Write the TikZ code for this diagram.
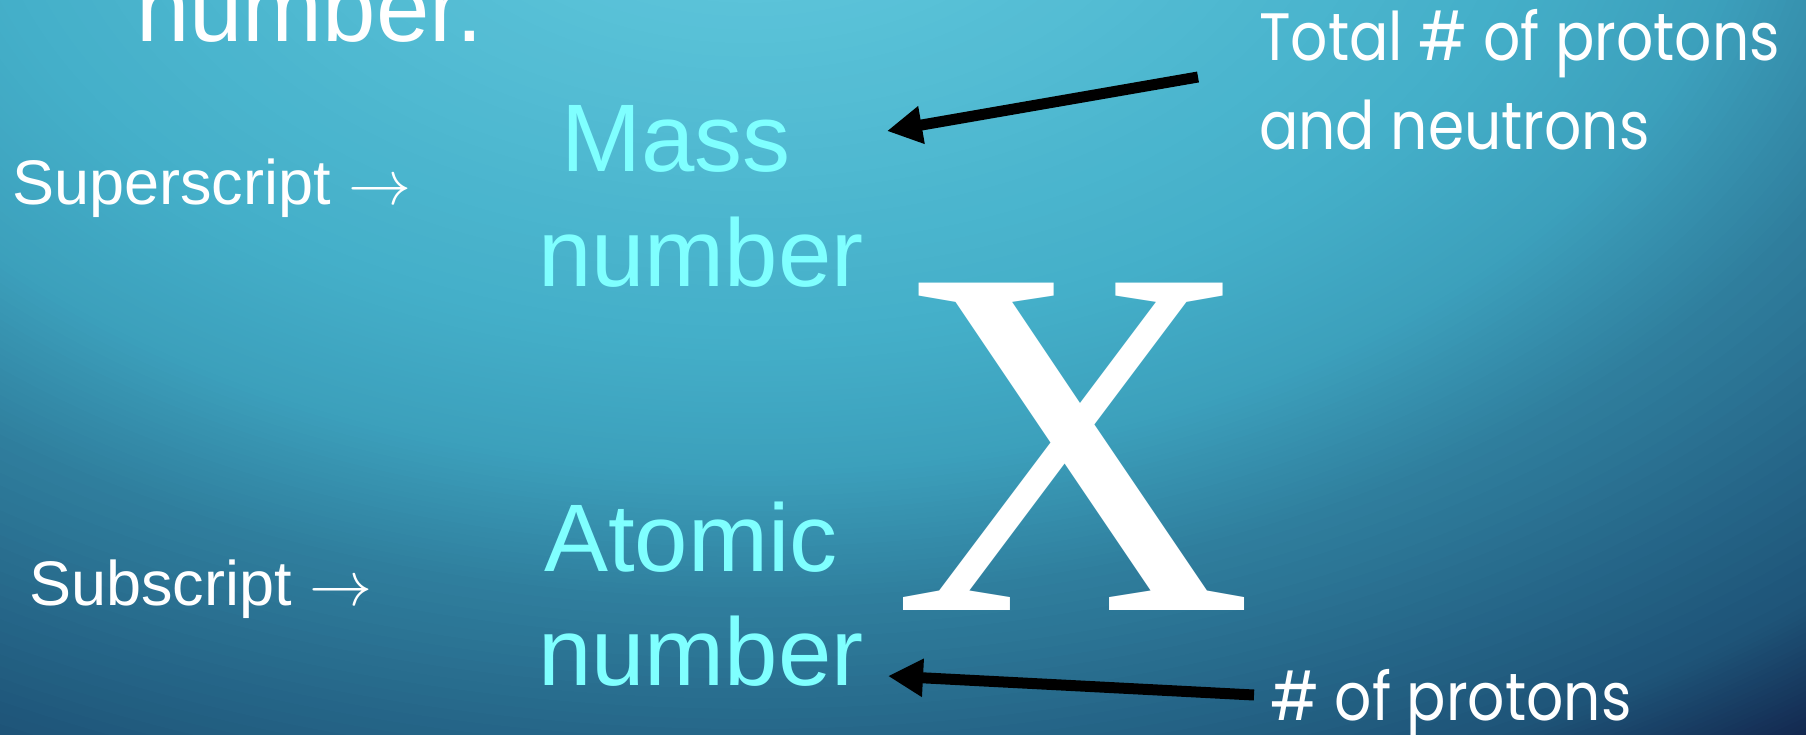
\documentclass[tikz,border=0pt]{standalone}
\usepackage{fontspec}
\usetikzlibrary{arrows.meta}
\setmainfont{Liberation Sans}
\newfontfamily\pSerif{Liberation Serif}
\newfontfamily\pGeo[FakeStretch=0.87]{Poppins}
\newcommand{\pSize}[1]{\fontsize{#1}{#1}\selectfont}
\newcommand{\pArrow}{{\fontsize{10}{10}\selectfont\scalebox{6.3}{$\rightarrow$}}}
\definecolor{pCyan}{HTML}{7FFFFF}
\definecolor{bgA}{HTML}{62CADF}
\definecolor{bgB}{HTML}{5BC3D9}
\definecolor{bgC}{HTML}{44AFC9}
\definecolor{bgD}{HTML}{3CA0BC}
\definecolor{bgE}{HTML}{30809F}
\definecolor{bgF}{HTML}{1E5478}
\definecolor{bgG}{HTML}{13284F}
\definecolor{bgH}{HTML}{112448}

\begin{document}
\begin{tikzpicture}[x=1pt,y=-1pt,
  lbl/.style={anchor=base west, inner sep=0pt, text=white},
  term/.style={lbl, text=pCyan, font=\pSize{96}},
  fat/.style={line width=11pt, -{Triangle[length=35pt,width=36pt]}}]
\useasboundingbox (0,0) rectangle (1806,734);
\begin{scope}
\clip (0,0) rectangle (1806,734);
\foreach \ra/\rb/\ca/\cb in {1.00/0.96/bgH/bgG, 0.96/0.87/bgG/bgF, 0.87/0.65/bgF/bgE, 0.65/0.54/bgE/bgD, 0.54/0.426/bgD/bgC, 0.426/0.133/bgC/bgB, 0.133/0.0/bgB/bgA}
  \foreach \k in {0,...,24} {
    \pgfmathsetmacro\rx{(\ra-(\ra-\rb)*\k/25)*1850}
    \pgfmathsetmacro\ry{(\ra-(\ra-\rb)*\k/25)*1150}
    \pgfmathtruncatemacro\pp{4*\k}
    \fill[\cb!\pp!\ca] (750,-150) ellipse [x radius=\rx pt, y radius=\ry pt];
  }
\end{scope}
\node[lbl, font=\pSize{96}] (title) at (136,41) {number.};
\node[lbl, font=\pSize{63}] (sup) at (12,204) {Superscript \pArrow};
\node[lbl, font=\pSize{63}] (sub) at (29,605) {Subscript \pArrow};
\node[term] (mass) at (561,171) {Mass};
\node[term] (massnum) at (538,286) {number};
\node[term] (atomic) at (544,571) {Atomic};
\node[term] (atomicnum) at (538,685) {number};
\node[anchor=base, inner sep=0pt, text=white, font=\pSerif\pSize{500}] (elem) at (1073,610) {X};
\node[lbl, font=\pGeo\pSize{67}] (total) at (1259,60) {Total \# of protons};
\node[lbl, font=\pGeo\pSize{67}] (andn) at (1259,149) {and neutrons};
\node[lbl, font=\pGeo\pSize{67}] (protons) at (1270,720) {\# of protons};
\coordinate (totalTail) at (1198,77);
\coordinate (massTip) at (887,131);
\coordinate (protonsTail) at (1254,695);
\coordinate (atomicTip) at (888,676);
\draw[fat] (totalTail) -- (massTip);
\draw[fat] (protonsTail) -- (atomicTip);
\end{tikzpicture}
\end{document}
